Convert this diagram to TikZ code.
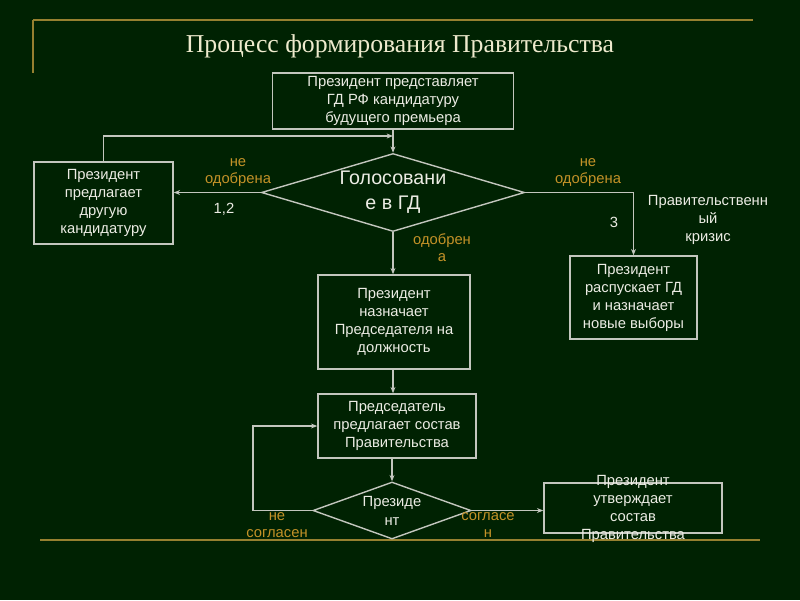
\documentclass[tikz,border=0pt]{standalone}
\usepackage{fontspec}
\setmainfont{Liberation Sans}
\newfontfamily\titlefont{Liberation Serif}
\usetikzlibrary{shapes.geometric,arrows.meta}

\definecolor{bg}{RGB}{0,34,2}
\definecolor{edge}{RGB}{195,198,190}
\definecolor{ink}{RGB}{236,236,228}
\definecolor{gold}{RGB}{196,146,40}
\definecolor{rulegold}{RGB}{150,128,48}
\definecolor{cream}{RGB}{238,234,205}

\tikzset{
  box/.style={draw=edge, line width=1pt, fill=bg, text=ink, align=center,
    inner sep=0pt, font=\fontsize{10.5}{12.8}\selectfont},
  vote/.style={diamond, draw=edge, line width=1pt, fill=bg, text=ink, align=center,
    inner sep=0pt, aspect=3},
  arr/.style={draw=edge, line width=1pt, -{Stealth[length=4.5pt,width=3.5pt]}},
  note/.style={text=gold, align=center, font=\fontsize{10.5}{12.3}\selectfont},
  plain/.style={text=ink, align=center, font=\fontsize{10.5}{12.8}\selectfont},
  rule/.style={draw=rulegold, line width=1.5pt}
}

\begin{document}
\begin{tikzpicture}[x=0.025cm,y=-0.025cm]
  \fill[bg] (0,0) rectangle (800,600);
  \draw[rule] (33,20) -- (753,20);
  \draw[rule] (33,20) -- (33,73);
  \draw[rule] (40,540) -- (760,540);
  \node[text=cream] (title) at (400,46) {\titlefont\fontsize{18.3}{22}\selectfont Процесс формирования Правительства};

  \node[box, minimum width=6.03cm, minimum height=1.4cm] (propose) at (393,101) {Президент представляет\\ГД РФ кандидатуру\\будущего премьера};
  \node[vote, minimum width=6.575cm, minimum height=1.875cm, font=\fontsize{14}{17.8}\selectfont] (duma) at (393,192.5) {Голосовани\\е в ГД};
  \node[box, minimum width=3.475cm, minimum height=2.05cm] (other) at (103.5,203) {Президент\\предлагает\\другую\\кандидатуру};
  \node[box, minimum width=3.175cm, minimum height=2.075cm] (dissolve) at (633.5,297.5) {Президент\\распускает ГД\\и назначает\\новые выборы};
  \node[box, minimum width=3.8cm, minimum height=2.35cm] (appoint) at (394,322) {Президент\\назначает\\Председателя на\\должность};
  \node[box, minimum width=3.95cm, minimum height=1.6cm] (chair) at (397,426) {Председатель\\предлагает состав\\Правительства};
  \node[vote, minimum width=3.95cm, minimum height=1.425cm, font=\fontsize{10.5}{13.5}\selectfont] (president) at (392,510.5) {Президе\\нт};
  \node[box, minimum width=4.45cm, minimum height=1.25cm] (approve) at (633,508) {};
  \node[plain] (approvetext) at (633,509) {Президент\\утверждает\\состав\\Правительства};

  \coordinate (merge) at (393,136);
  \coordinate (back) at (253,510.5);

  \draw[arr] (propose.south) -- (duma.north);
  \draw[arr] (other.north) |- (merge);
  \draw[arr] (duma.west) -- (duma.west -| other.east);
  \draw[arr] (duma.east) -| (dissolve.north);
  \draw[arr] (duma.south) -- (appoint.north -| duma.south);
  \draw[arr] (appoint.south -| duma.south) -- (chair.north -| duma.south);
  \draw[arr] (chair.south -| president.north) -- (president.north);
  \draw[arr] (president.west) -- (back) |- (chair.west);
  \draw[arr] (president.east) -- (president.east -| approve.west);

  \node[note] (rejectleft) at (238,172.5) {не\\одобрена};
  \node[plain] (firsttwo) at (224,209) {1,2};
  \node[note] (rejectright) at (588,172.5) {не\\одобрена};
  \node[plain] (third) at (614,222) {3};
  \node[plain] (crisis) at (708,220) {Правительственн\\ый\\кризис};
  \node[note] (accepted) at (442,248) {одобрен\\а};
  \node[note] (disagree) at (277,525) {не\\согласен};
  \node[note] (agree) at (488,525) {согласе\\н};
\end{tikzpicture}
\end{document}
